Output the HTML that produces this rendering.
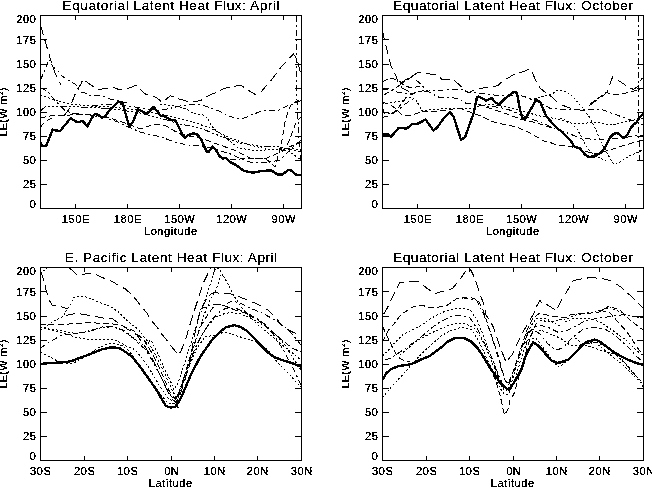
<!DOCTYPE html><html><head><meta charset="utf-8"><style>html,body{margin:0;padding:0;background:#fff;width:652px;height:488px;overflow:hidden}svg{display:block}text{font-family:"Liberation Sans",sans-serif;fill:#000;stroke:#000;stroke-width:0.15px}</style></head><body>
<svg width="652" height="488" viewBox="0 0 652 488" font-family="Liberation Sans, sans-serif">
<rect width="652" height="488" fill="#fff"/>
<defs><filter id="bin" x="0" y="0" width="652" height="488" filterUnits="userSpaceOnUse"><feComponentTransfer><feFuncA type="discrete" tableValues="0 0 1 1 1"/></feComponentTransfer></filter></defs>
<g transform="translate(0,0)" filter="url(#bin)">
<rect x="40.5" y="15.5" width="261" height="193" fill="none" stroke="#000" stroke-width="1"/>
<path d="M41 184.5H47M295 184.5H301M41 160.5H47M295 160.5H301M41 136.5H47M295 136.5H301M41 112.5H47M295 112.5H301M41 88.5H47M295 88.5H301M41 64.5H47M295 64.5H301M41 39.5H47M295 39.5H301M75.5 204V208M75.5 16V20M127.5 204V208M127.5 16V20M179.5 204V208M179.5 16V20M231.5 204V208M231.5 16V20M283.5 204V208M283.5 16V20" stroke="#000" stroke-width="1" fill="none"/>
<text x="36.5" y="208.26" text-anchor="end" font-size="11" letter-spacing="0.6" font-weight="normal">0</text>
<text x="36.5" y="188.46" text-anchor="end" font-size="11" letter-spacing="0.6" font-weight="normal">25</text>
<text x="36.5" y="164.46" text-anchor="end" font-size="11" letter-spacing="0.6" font-weight="normal">50</text>
<text x="36.5" y="140.46" text-anchor="end" font-size="11" letter-spacing="0.6" font-weight="normal">75</text>
<text x="36.5" y="116.46" text-anchor="end" font-size="11" letter-spacing="0.6" font-weight="normal">100</text>
<text x="36.5" y="92.46" text-anchor="end" font-size="11" letter-spacing="0.6" font-weight="normal">125</text>
<text x="36.5" y="68.46" text-anchor="end" font-size="11" letter-spacing="0.6" font-weight="normal">150</text>
<text x="36.5" y="44.46" text-anchor="end" font-size="11" letter-spacing="0.6" font-weight="normal">175</text>
<text x="36.5" y="23.46" text-anchor="end" font-size="11" letter-spacing="0.6" font-weight="normal">200</text>
<text x="75.80" y="222.66" text-anchor="middle" font-size="11" letter-spacing="0.6" font-weight="normal">150E</text>
<text x="127.80" y="222.66" text-anchor="middle" font-size="11" letter-spacing="0.6" font-weight="normal">180E</text>
<text x="179.80" y="222.66" text-anchor="middle" font-size="11" letter-spacing="0.6" font-weight="normal">150W</text>
<text x="231.80" y="222.66" text-anchor="middle" font-size="11" letter-spacing="0.6" font-weight="normal">120W</text>
<text x="283.80" y="222.66" text-anchor="middle" font-size="11" letter-spacing="0.6" font-weight="normal">90W</text>
<text x="170.80" y="235.46" text-anchor="middle" font-size="11" letter-spacing="0.6" font-weight="normal">Longitude</text>
<text transform="translate(6.8,112) rotate(-90)" text-anchor="middle" font-size="11" letter-spacing="0.3" font-weight="normal">LE(W m<tspan font-size="6.6" dy="-4">2</tspan><tspan dy="4">)</tspan></text>
<text x="171.28" y="9.6" text-anchor="middle" font-size="13.6" letter-spacing="0.55" font-weight="normal" style="stroke-width:0.05px">Equatorial Latent Heat Flux: April</text>
</g>
<path d="M40.5 142.3 42.0 145.6 46.0 146.3 52.6 129.6 54.6 130.3 60.0 131.0 70.6 118.3 77.3 122.3 82.6 121.0 87.3 126.3 93.3 115.6 96.0 113.6 102.0 117.6 105.2 116.3 110.0 109.6 118.7 101.6 122.6 103.0 129.3 127.0 133.3 121.0 138.0 109.6 142.0 111.0 145.3 113.6 148.6 112.3 153.3 107.0 155.3 109.0 160.6 115.6 164.6 116.3 170.0 119.6 175.2 120.3 179.2 127.6 182.6 135.0 185.2 137.6 188.0 135.3 193.3 133.3 197.3 134.6 201.3 139.3 204.0 146.0 206.6 151.3 208.6 152.0 212.6 146.6 216.0 150.0 219.3 156.0 222.6 158.6 226.0 158.0 230.0 162.0 236.0 165.0 243.0 170.3 247.8 171.8 253.8 172.7 258.5 171.5 264.4 170.9 271.0 170.3 277.5 174.4 282.3 174.4 288.8 169.7 291.8 170.9 296.5 175.0 301.0 175.0" fill="none" stroke="#000" stroke-width="2.4" stroke-linejoin="round" shape-rendering="crispEdges"/>
<path d="M40.5 25.0 44.0 37.0 48.8 53.6 52.8 66.8 56.0 75.2 61.0 85.0" fill="none" stroke="#000" stroke-width="1" stroke-dasharray="10 5" stroke-linejoin="round" shape-rendering="crispEdges"/>
<path d="M64.0 116.0 69.6 108.4 72.0 102.0 74.0 97.0 76.5 91.0 80.7 84.4 83.1 79.2 91.0 85.0 97.4 89.4 106.0 88.7 112.7 86.7 118.0 89.3 122.9 89.3 128.3 88.4 135.4 85.5 137.6 86.0 142.5 91.5 146.3 94.7 150.6 95.3 156.6 97.5 161.5 101.8 164.7 100.7 170.1 95.8 175.0 97.5 180.5 99.4 190.0 102.0 200.4 100.7 209.2 95.2 216.0 92.7 224.4 88.4 231.0 86.7 241.2 85.4 248.0 90.0 256.0 95.0 260.0 93.0 271.0 80.5 282.0 66.0 293.5 54.0 296.5 58.0 300.5 72.4" fill="none" stroke="#000" stroke-width="1" stroke-dasharray="10 5" stroke-linejoin="round" shape-rendering="crispEdges"/>
<path d="M40.5 80.0 44.0 72.0 48.0 62.0 49.2 59.2 52.8 66.8 56.8 69.6 62.0 76.0 66.0 78.8 72.0 82.0 76.7 85.5 80.0 92.0 85.5 93.2 90.0 95.5 100.0 95.4 106.0 97.4 111.0 99.6 120.0 101.0 130.0 104.0" fill="none" stroke="#000" stroke-width="1" stroke-dasharray="6 3 2 3" stroke-linejoin="round" shape-rendering="crispEdges"/>
<path d="M92.3 105.6 117.6 103.9 140.0 108.0 158.6 110.4 168.7 108.7 178.8 106.2 189.0 105.0 199.9 104.5 205.8 106.2 212.5 108.7 219.3 111.2 227.7 115.4 236.2 118.8 244.6 118.0 251.0 115.0 265.0 110.0 279.0 110.0 287.4 106.0 297.5 102.0 301.0 100.5" fill="none" stroke="#000" stroke-width="1" stroke-dasharray="6 3 2 3" stroke-linejoin="round" shape-rendering="crispEdges"/>
<path d="M160.0 104.0 175.0 106.0 187.2 109.5 194.0 113.7 202.4 114.6 208.3 118.8 210.9 125.6 216.0 130.6 222.7 135.7 229.4 140.7 237.9 147.5 250.0 150.0 265.0 150.0 280.0 149.0 290.0 152.0 301.0 160.0" fill="none" stroke="#000" stroke-width="1" stroke-dasharray="2 2" stroke-linejoin="round" shape-rendering="crispEdges"/>
<path d="M40.5 118.0 50.0 116.0 60.0 115.5 70.0 115.0 92.0 114.0 110.0 118.0 125.0 123.0 140.0 128.9 150.1 125.6 156.9 124.2 165.3 125.6 173.7 130.6 180.5 134.0 190.6 136.5 200.7 138.2 212.5 142.4 224.4 146.6 236.2 150.9 251.0 158.7 265.0 158.7 275.0 154.7 285.4 148.6 301.0 142.0" fill="none" stroke="#000" stroke-width="1" stroke-dasharray="6 3" stroke-linejoin="round" shape-rendering="crispEdges"/>
<path d="M40.5 88.0 48.0 91.2 52.0 97.2 64.8 110.4 71.0 113.0 90.0 115.0 106.0 118.0 118.0 122.0 129.0 127.2 140.0 132.0 150.1 134.8 160.2 136.5 168.7 139.9 178.8 143.3 188.9 145.0 199.0 145.8 210.9 147.5 221.0 150.9 231.1 154.2 237.9 157.6 250.0 162.0 265.0 163.0 280.0 160.0 290.0 150.0 301.0 140.0" fill="none" stroke="#000" stroke-width="1" stroke-dasharray="6 3 2 3" stroke-linejoin="round" shape-rendering="crispEdges"/>
<path d="M230.0 160.0 250.0 158.0 265.0 158.0 275.0 167.0 279.0 152.6 282.3 138.5 285.4 120.0 288.4 110.0 291.5 104.0 301.6 98.7" fill="none" stroke="#000" stroke-width="1" stroke-dasharray="6 3" stroke-linejoin="round" shape-rendering="crispEdges"/>
<path d="M296.5 15.5 296.5 60.0 297.0 100.0 299.0 140.0 301.0 160.0" fill="none" stroke="#000" stroke-width="1" stroke-dasharray="6 3 2 3" stroke-linejoin="round" shape-rendering="crispEdges"/>
<path d="M40.5 127.0 44.0 123.0 47.0 120.5 52.0 118.0" fill="none" stroke="#000" stroke-width="1" stroke-dasharray="6 3" stroke-linejoin="round" shape-rendering="crispEdges"/>
<path d="M282.0 152.0 286.0 148.0 289.0 141.0 292.0 133.0 295.0 125.0 298.0 120.0 301.0 117.0" fill="none" stroke="#000" stroke-width="1" stroke-dasharray="6 3" stroke-linejoin="round" shape-rendering="crispEdges"/>
<path d="M40.5 111.0 46.0 106.0 60.0 106.0 80.0 107.0 100.0 108.0 120.0 110.0 140.0 113.0 160.0 118.0 180.0 124.0 200.0 128.0 220.0 136.0 240.0 143.0 260.0 146.0 280.0 147.0 301.0 152.0" fill="none" stroke="#000" stroke-width="1" stroke-dasharray="7 2 2 2 2 2 2 2" stroke-linejoin="round" shape-rendering="crispEdges"/>
<path d="M40.5 95.0 55.0 100.0 70.0 104.0 90.0 106.0 110.0 107.0 130.0 109.0 150.0 112.0 170.0 116.0 190.0 121.0 210.0 128.0 230.0 138.0 250.0 145.0 270.0 150.0 290.0 148.0 301.0 150.0" fill="none" stroke="#000" stroke-width="1" stroke-dasharray="2 2" stroke-linejoin="round" shape-rendering="crispEdges"/>
<g transform="translate(342,0)" filter="url(#bin)">
<rect x="40.5" y="15.5" width="261" height="193" fill="none" stroke="#000" stroke-width="1"/>
<path d="M41 184.5H47M295 184.5H301M41 160.5H47M295 160.5H301M41 136.5H47M295 136.5H301M41 112.5H47M295 112.5H301M41 88.5H47M295 88.5H301M41 64.5H47M295 64.5H301M41 39.5H47M295 39.5H301M75.5 204V208M75.5 16V20M127.5 204V208M127.5 16V20M179.5 204V208M179.5 16V20M231.5 204V208M231.5 16V20M283.5 204V208M283.5 16V20" stroke="#000" stroke-width="1" fill="none"/>
<text x="36.5" y="208.26" text-anchor="end" font-size="11" letter-spacing="0.6" font-weight="normal">0</text>
<text x="36.5" y="188.46" text-anchor="end" font-size="11" letter-spacing="0.6" font-weight="normal">25</text>
<text x="36.5" y="164.46" text-anchor="end" font-size="11" letter-spacing="0.6" font-weight="normal">50</text>
<text x="36.5" y="140.46" text-anchor="end" font-size="11" letter-spacing="0.6" font-weight="normal">75</text>
<text x="36.5" y="116.46" text-anchor="end" font-size="11" letter-spacing="0.6" font-weight="normal">100</text>
<text x="36.5" y="92.46" text-anchor="end" font-size="11" letter-spacing="0.6" font-weight="normal">125</text>
<text x="36.5" y="68.46" text-anchor="end" font-size="11" letter-spacing="0.6" font-weight="normal">150</text>
<text x="36.5" y="44.46" text-anchor="end" font-size="11" letter-spacing="0.6" font-weight="normal">175</text>
<text x="36.5" y="23.46" text-anchor="end" font-size="11" letter-spacing="0.6" font-weight="normal">200</text>
<text x="75.80" y="222.66" text-anchor="middle" font-size="11" letter-spacing="0.6" font-weight="normal">150E</text>
<text x="127.80" y="222.66" text-anchor="middle" font-size="11" letter-spacing="0.6" font-weight="normal">180E</text>
<text x="179.80" y="222.66" text-anchor="middle" font-size="11" letter-spacing="0.6" font-weight="normal">150W</text>
<text x="231.80" y="222.66" text-anchor="middle" font-size="11" letter-spacing="0.6" font-weight="normal">120W</text>
<text x="283.80" y="222.66" text-anchor="middle" font-size="11" letter-spacing="0.6" font-weight="normal">90W</text>
<text x="170.80" y="235.46" text-anchor="middle" font-size="11" letter-spacing="0.6" font-weight="normal">Longitude</text>
<text transform="translate(6.8,112) rotate(-90)" text-anchor="middle" font-size="11" letter-spacing="0.3" font-weight="normal">LE(W m<tspan font-size="6.6" dy="-4">2</tspan><tspan dy="4">)</tspan></text>
<text x="171.28" y="9.6" text-anchor="middle" font-size="13.6" letter-spacing="0.55" font-weight="normal" style="stroke-width:0.05px">Equatorial Latent Heat Flux: October</text>
</g>
<path d="M382.5 135.5 384.5 134.3 388.1 134.3 391.2 136.7 398.6 127.9 401.6 127.9 406.5 128.7 412.7 123.8 417.6 123.8 425.6 119.5 433.5 130.6 437.2 127.5 443.3 118.9 450.1 112.2 453.8 117.1 461.0 139.9 465.0 137.3 473.6 113.3 477.0 97.3 479.0 96.6 486.3 100.6 491.6 98.0 495.0 102.0 499.0 104.6 505.6 98.0 513.6 92.0 516.9 92.6 520.2 110.6 522.9 119.3 525.7 118.3 536.3 99.6 540.3 102.3 546.3 116.3 551.6 122.3 557.0 128.3 561.0 131.0 566.3 136.3 570.3 140.3 574.7 147.0 580.0 148.3 585.3 154.9 588.6 156.9 594.6 156.5 601.3 152.3 605.3 146.9 610.0 137.6 614.0 133.6 617.3 133.0 624.0 138.3 627.2 135.0 630.6 128.3 633.2 125.0 636.6 122.3 639.2 117.6 643.2 113.6" fill="none" stroke="#000" stroke-width="2.4" stroke-linejoin="round" shape-rendering="crispEdges"/>
<path d="M382.5 30.0 384.7 41.6 387.0 50.0 389.4 60.0 391.0 66.0 395.5 74.8 398.0 82.0 402.0 88.0 410.0 92.0" fill="none" stroke="#000" stroke-width="1" stroke-dasharray="10 5" stroke-linejoin="round" shape-rendering="crispEdges"/>
<path d="M400.0 84.0 405.0 80.2 413.0 75.5 418.0 72.5 421.0 72.0 427.0 73.5 437.0 75.0 442.0 79.5 453.0 79.3 458.0 83.6 468.5 93.0 472.3 90.6 483.0 88.0 489.0 87.3 497.6 85.7 503.0 81.0 513.0 75.0 518.4 73.4 528.4 69.6 531.0 70.0 536.8 82.6 540.0 88.0 547.6 94.2 551.4 96.5 559.0 104.0 570.0 108.0 583.0 110.5 593.3 102.6 601.9 96.8 607.0 91.8 610.6 82.4 612.7 76.6 619.2 81.0 627.9 86.7 633.6 89.6 638.0 86.0 642.3 78.0" fill="none" stroke="#000" stroke-width="1" stroke-dasharray="10 5" stroke-linejoin="round" shape-rendering="crispEdges"/>
<path d="M530.0 100.0 540.0 97.0 551.4 94.6 555.8 91.0 561.5 90.3 568.7 93.2 574.5 98.3 578.8 104.0 583.2 108.3 590.0 118.0 596.0 130.0 601.0 142.0 607.0 153.0 612.0 162.0 615.0 164.6 621.3 161.4 629.3 155.8 637.3 152.6 643.7 149.4" fill="none" stroke="#000" stroke-width="1" stroke-dasharray="2 2" stroke-linejoin="round" shape-rendering="crispEdges"/>
<path d="M560.0 118.0 570.0 122.0 576.7 128.7 581.5 136.7 586.3 146.3 591.0 152.6 599.0 157.4 607.0 161.4" fill="none" stroke="#000" stroke-width="1" stroke-dasharray="2 2" stroke-linejoin="round" shape-rendering="crispEdges"/>
<path d="M382.5 89.0 390.0 90.4 402.0 93.0 410.4 93.8 420.5 91.7 436.0 90.4 449.6 89.7 463.0 89.7 469.0 93.0 475.4 92.6 486.0 94.2 501.5 95.7 510.7 95.0 521.4 95.7 535.0 100.0 550.0 108.3 564.4 109.8 586.0 109.8 600.5 109.0 612.0 113.4 630.7 119.9 643.0 125.0" fill="none" stroke="#000" stroke-width="1" stroke-dasharray="6 3 2 3" stroke-linejoin="round" shape-rendering="crispEdges"/>
<path d="M416.0 80.0 421.2 84.3 426.6 90.4 433.4 94.4 438.8 97.1 446.9 97.8 453.6 97.8 460.4 99.8 466.0 103.4 473.8 104.2 486.0 106.0 498.4 107.2 510.7 110.3 521.4 115.0 532.2 119.5 541.4 122.6 552.2 127.2 565.0 132.0 580.0 138.0 600.0 140.0 620.0 138.0 643.0 135.0" fill="none" stroke="#000" stroke-width="1" stroke-dasharray="6 3 2 3" stroke-linejoin="round" shape-rendering="crispEdges"/>
<path d="M382.5 104.0 395.0 102.0 402.3 101.2 405.0 97.8 411.7 97.1 416.0 100.0 419.8 106.6 422.5 111.3 429.3 110.0 438.8 109.3 449.6 108.0 463.0 108.6 472.3 108.8 480.0 105.7 490.7 104.2 500.0 105.7 510.7 108.0 525.0 112.0 540.0 116.0 552.2 118.0 560.0 120.0 575.0 124.0 595.8 122.3 612.0 125.0 625.0 122.0 643.0 118.0" fill="none" stroke="#000" stroke-width="1" stroke-dasharray="2 2" stroke-linejoin="round" shape-rendering="crispEdges"/>
<path d="M382.5 102.5 388.8 103.9 395.0 108.0 402.3 115.4 410.4 115.4 417.1 113.4 425.0 111.0 440.0 111.0 460.0 108.0 469.2 111.8 481.5 116.4 490.7 121.0 498.4 123.4 507.6 124.9 516.8 127.2 530.0 133.0 544.8 141.5 549.6 142.3 556.0 144.7 560.7 145.5 568.7 146.3 576.7 147.8 584.7 151.0 595.0 154.0 610.0 150.0 625.0 145.0 643.0 140.0" fill="none" stroke="#000" stroke-width="1" stroke-dasharray="6 3" stroke-linejoin="round" shape-rendering="crispEdges"/>
<path d="M382.5 108.0 384.7 113.4 392.8 113.4 398.2 110.0 405.0 104.0 415.0 98.0" fill="none" stroke="#000" stroke-width="1" stroke-dasharray="6 3 2 3" stroke-linejoin="round" shape-rendering="crispEdges"/>
<path d="M638.5 15.5 638.5 60.0 638.5 112.0 639.0 140.0 640.0 160.0" fill="none" stroke="#000" stroke-width="1" stroke-dasharray="6 3 2 3" stroke-linejoin="round" shape-rendering="crispEdges"/>
<path d="M478.0 104.0 495.0 110.0 509.2 114.9 521.4 119.5 529.0 121.0 540.0 124.0 552.0 128.0" fill="none" stroke="#000" stroke-width="1" stroke-dasharray="6 3" stroke-linejoin="round" shape-rendering="crispEdges"/>
<path d="M590.0 104.0 600.0 97.0 605.7 92.5 612.0 94.0 619.2 94.5 626.0 93.0 632.7 91.6 643.0 88.0" fill="none" stroke="#000" stroke-width="1" stroke-dasharray="6 3" stroke-linejoin="round" shape-rendering="crispEdges"/>
<path d="M382.5 82.0 390.0 78.0 398.0 80.0 405.0 86.0 412.0 88.0 420.0 86.0" fill="none" stroke="#000" stroke-width="1" stroke-dasharray="6 3" stroke-linejoin="round" shape-rendering="crispEdges"/>
<path d="M384.0 95.0 392.0 90.0 400.0 85.0 407.0 80.0 413.0 76.0" fill="none" stroke="#000" stroke-width="1" stroke-dasharray="6 3 2 3" stroke-linejoin="round" shape-rendering="crispEdges"/>
<path d="M382.5 117.3 387.7 116.0 390.6 114.5 396.3 110.2 402.0 103.0 406.4 97.3 410.0 95.0 415.0 93.0 425.0 90.0" fill="none" stroke="#000" stroke-width="1" stroke-dasharray="6 3" stroke-linejoin="round" shape-rendering="crispEdges"/>
<g transform="translate(0,252)" filter="url(#bin)">
<rect x="40.5" y="15.5" width="261" height="193" fill="none" stroke="#000" stroke-width="1"/>
<path d="M41 184.5H47M295 184.5H301M41 160.5H47M295 160.5H301M41 136.5H47M295 136.5H301M41 112.5H47M295 112.5H301M41 88.5H47M295 88.5H301M41 64.5H47M295 64.5H301M41 39.5H47M295 39.5H301M84.5 204V208M84.5 16V20M127.5 204V208M127.5 16V20M171.5 204V208M171.5 16V20M214.5 204V208M214.5 16V20M257.5 204V208M257.5 16V20" stroke="#000" stroke-width="1" fill="none"/>
<text x="36.5" y="208.26" text-anchor="end" font-size="11" letter-spacing="0.6" font-weight="normal">0</text>
<text x="36.5" y="188.46" text-anchor="end" font-size="11" letter-spacing="0.6" font-weight="normal">25</text>
<text x="36.5" y="164.46" text-anchor="end" font-size="11" letter-spacing="0.6" font-weight="normal">50</text>
<text x="36.5" y="140.46" text-anchor="end" font-size="11" letter-spacing="0.6" font-weight="normal">75</text>
<text x="36.5" y="116.46" text-anchor="end" font-size="11" letter-spacing="0.6" font-weight="normal">100</text>
<text x="36.5" y="92.46" text-anchor="end" font-size="11" letter-spacing="0.6" font-weight="normal">125</text>
<text x="36.5" y="68.46" text-anchor="end" font-size="11" letter-spacing="0.6" font-weight="normal">150</text>
<text x="36.5" y="44.46" text-anchor="end" font-size="11" letter-spacing="0.6" font-weight="normal">175</text>
<text x="36.5" y="23.46" text-anchor="end" font-size="11" letter-spacing="0.6" font-weight="normal">200</text>
<text x="40.80" y="222.66" text-anchor="middle" font-size="11" letter-spacing="0.6" font-weight="normal">30S</text>
<text x="84.80" y="222.66" text-anchor="middle" font-size="11" letter-spacing="0.6" font-weight="normal">20S</text>
<text x="127.80" y="222.66" text-anchor="middle" font-size="11" letter-spacing="0.6" font-weight="normal">10S</text>
<text x="171.80" y="222.66" text-anchor="middle" font-size="11" letter-spacing="0.6" font-weight="normal">0N</text>
<text x="214.80" y="222.66" text-anchor="middle" font-size="11" letter-spacing="0.6" font-weight="normal">10N</text>
<text x="257.80" y="222.66" text-anchor="middle" font-size="11" letter-spacing="0.6" font-weight="normal">20N</text>
<text x="301.80" y="222.66" text-anchor="middle" font-size="11" letter-spacing="0.6" font-weight="normal">30N</text>
<text x="170.80" y="235.46" text-anchor="middle" font-size="11" letter-spacing="0.6" font-weight="normal">Latitude</text>
<text transform="translate(6.8,112) rotate(-90)" text-anchor="middle" font-size="11" letter-spacing="0.3" font-weight="normal">LE(W m<tspan font-size="6.6" dy="-4">2</tspan><tspan dy="4">)</tspan></text>
<text x="171.28" y="9.6" text-anchor="middle" font-size="13.6" letter-spacing="0.55" font-weight="normal" style="stroke-width:0.05px">E. Pacific Latent Heat Flux: April</text>
</g>
<path d="M40.5 364.5 44.1 363.4 51.0 363.1 58.0 362.6 67.6 362.0 73.1 360.4 81.4 357.3 88.3 354.8 95.2 352.1 102.1 349.3 109.0 347.7 114.5 347.3 120.0 348.5 126.1 352.3 132.3 356.9 138.4 364.6 144.6 373.0 150.7 381.5 156.9 390.7 163.0 401.4 166.1 406.1 170.7 407.6 175.3 406.8 178.4 402.2 181.4 396.8 186.1 386.1 190.7 375.3 195.3 366.1 199.9 357.6 206.5 347.7 213.0 338.7 219.6 332.2 226.2 327.2 234.4 325.1 241.0 327.2 247.5 331.3 254.1 337.9 260.6 345.3 267.2 351.9 273.8 356.8 282.0 360.1 290.2 362.5 296.8 365.0 301.0 366.5" fill="none" stroke="#000" stroke-width="2.4" stroke-linejoin="round" shape-rendering="crispEdges"/>
<path d="M69.0 267.5 76.2 274.0 84.6 274.0 94.3 273.3 99.9 276.7 109.6 280.2 115.9 283.7 120.0 286.5 125.0 288.6 129.7 292.8 136.7 300.4 141.6 306.7 147.9 314.4 150.0 319.2 156.9 326.9 161.2 333.4 167.5 341.1 171.0 346.0 178.6 355.0 180.7 351.5 184.9 341.8 189.0 327.9 191.9 318.1 194.6 309.7 197.4 301.4 203.6 282.3 209.1 271.2 211.0 267.5" fill="none" stroke="#000" stroke-width="1" stroke-dasharray="10 5" stroke-linejoin="round" shape-rendering="crispEdges"/>
<path d="M40.5 274.0 47.0 267.5" fill="none" stroke="#000" stroke-width="1" stroke-dasharray="2 2" stroke-linejoin="round" shape-rendering="crispEdges"/>
<path d="M40.5 271.0 41.4 273.3 44.2 281.0 46.3 291.4 49.7 301.0 52.0 305.0 58.0 305.3 63.0 307.4 67.9 308.8" fill="none" stroke="#000" stroke-width="1" stroke-dasharray="10 5" stroke-linejoin="round" shape-rendering="crispEdges"/>
<path d="M40.5 330.0 44.4 328.2 52.0 322.0 63.3 316.5 66.5 310.0 70.6 304.9 73.5 297.6 82.3 296.1 88.1 297.6 98.3 302.0 110.0 306.3 118.7 312.2 127.4 320.9 139.0 330.0 148.0 342.0 155.0 354.0 162.0 368.0 168.0 381.0 173.0 392.0 177.0 398.0 181.0 388.0 186.0 372.0 192.0 352.0 198.0 333.0 204.0 315.0 210.0 300.0 216.0 290.0 221.0 275.0 223.5 276.4 227.4 282.6 232.9 294.4 237.6 301.4 243.0 309.3 250.0 317.0 257.6 324.6 267.5 332.8 277.3 341.0 285.5 347.5 293.7 354.0 301.0 360.0" fill="none" stroke="#000" stroke-width="1" stroke-dasharray="2 2" stroke-linejoin="round" shape-rendering="crispEdges"/>
<path d="M65.5 315.3 72.0 314.6 74.2 313.1 89.5 315.3 91.0 316.0 101.2 317.5 104.0 318.2 112.9 319.0 118.7 323.3 127.4 329.1 137.0 335.0 146.0 348.0 154.0 362.0 161.0 377.0 167.0 390.0 172.0 399.0 176.0 403.0 180.0 395.0 184.0 383.0 189.0 366.0 193.2 341.8 196.0 327.9 198.8 315.3 203.0 305.6 208.0 296.0 213.3 292.8 229.7 293.6 235.2 295.2 247.0 299.9 254.8 303.0 264.2 307.7 268.9 310.8 276.7 318.6 281.4 324.9 287.6 329.6 293.9 332.7 301.0 334.5" fill="none" stroke="#000" stroke-width="1" stroke-dasharray="10 5" stroke-linejoin="round" shape-rendering="crispEdges"/>
<path d="M40.5 324.5 54.6 324.0 69.1 324.0 88.1 322.6 101.2 323.3 112.9 324.0 121.6 325.5 133.3 330.6 144.0 340.0 152.0 353.0 159.0 367.0 165.0 381.0 170.0 392.0 175.0 399.0 179.0 393.0 184.0 378.0 189.0 360.0 195.0 342.0 201.0 326.0 208.0 314.0 215.6 304.2 223.5 305.3 232.0 309.0 245.0 313.0 258.0 320.0 270.0 330.0 282.0 340.0 292.0 348.0 301.0 352.0" fill="none" stroke="#000" stroke-width="1" stroke-dasharray="6 3" stroke-linejoin="round" shape-rendering="crispEdges"/>
<path d="M44.2 328.3 54.0 330.4 63.3 332.8 75.0 337.2 88.1 339.3 110.0 339.3 117.2 340.8 127.4 346.6 134.7 349.5 142.0 358.0 149.0 368.0 156.0 380.0 163.0 391.0 169.0 399.0 174.0 402.0 178.0 396.0 183.0 383.0 188.0 368.0 194.0 352.0 200.0 338.0 207.0 327.0 215.6 317.1 223.5 314.0 231.3 312.4 240.7 314.0 251.6 318.6 259.5 323.3 267.3 326.5 277.0 336.0 285.0 345.0 293.0 358.0 301.0 370.0" fill="none" stroke="#000" stroke-width="1" stroke-dasharray="2 2" stroke-linejoin="round" shape-rendering="crispEdges"/>
<path d="M40.5 348.0 48.7 342.3 61.9 335.0 72.0 334.2 83.7 332.0 95.4 329.1 104.1 326.2 115.0 327.0 125.0 331.0 135.0 340.0 146.0 350.0 153.0 362.0 160.0 375.0 166.0 387.0 171.0 396.0 175.0 400.0 179.0 392.0 184.0 377.0 190.0 361.0 196.0 346.0 203.0 333.0 210.0 322.0 218.0 313.0 226.0 308.0 235.0 308.0 245.0 312.0 256.0 318.0 266.0 325.0 276.0 338.0 285.0 353.0 293.0 368.0 301.0 385.0" fill="none" stroke="#000" stroke-width="1" stroke-dasharray="6 3 2 3" stroke-linejoin="round" shape-rendering="crispEdges"/>
<path d="M40.5 352.5 47.3 355.4 57.5 361.2 69.1 364.1 77.9 361.2 90.0 353.0 100.0 347.0 108.0 344.0 115.0 343.5 122.0 345.5 129.0 351.0 136.0 360.0 144.0 372.0 152.0 383.0 160.0 394.0 166.0 401.0 171.0 404.0 175.0 403.0 179.0 396.0 184.0 382.0 190.0 364.0 197.0 348.0 205.0 337.0 215.0 335.0 224.8 332.0 234.7 335.2 247.8 339.3 257.6 342.6 268.0 350.0 277.3 362.3 283.9 368.9 290.4 375.4 296.0 382.0 301.0 387.0" fill="none" stroke="#000" stroke-width="1" stroke-dasharray="2 2" stroke-linejoin="round" shape-rendering="crispEdges"/>
<path d="M40.5 327.0 44.2 328.3 54.6 329.7 63.0 331.0 69.1 332.6 76.4 333.3 91.0 331.1 98.3 328.2 112.9 326.7 122.0 330.0 132.0 337.0 143.0 345.0 151.0 340.0 158.0 354.0 164.0 368.0 170.0 380.0 174.0 390.0 178.0 383.0 183.0 368.0 189.0 349.0 195.0 330.0 200.0 315.0 205.0 300.0 210.0 285.0 214.0 272.0 216.0 268.0 219.0 268.6 223.5 276.4" fill="none" stroke="#000" stroke-width="1" stroke-dasharray="2 2" stroke-linejoin="round" shape-rendering="crispEdges"/>
<path d="M200.0 309.3 207.8 306.1 215.6 304.2 223.5 305.3 232.0 301.0 240.0 303.0 250.0 308.0 262.0 313.0 275.0 320.0 285.0 327.0 293.0 335.0 301.0 345.0" fill="none" stroke="#000" stroke-width="1" stroke-dasharray="6 3 2 3" stroke-linejoin="round" shape-rendering="crispEdges"/>
<path d="M176.0 403.0 179.3 410.5" fill="none" stroke="#000" stroke-width="1" stroke-dasharray="6 3" stroke-linejoin="round" shape-rendering="crispEdges"/>
<g transform="translate(342,252)" filter="url(#bin)">
<rect x="40.5" y="15.5" width="261" height="193" fill="none" stroke="#000" stroke-width="1"/>
<path d="M41 184.5H47M295 184.5H301M41 160.5H47M295 160.5H301M41 136.5H47M295 136.5H301M41 112.5H47M295 112.5H301M41 88.5H47M295 88.5H301M41 64.5H47M295 64.5H301M41 39.5H47M295 39.5H301M84.5 204V208M84.5 16V20M127.5 204V208M127.5 16V20M171.5 204V208M171.5 16V20M214.5 204V208M214.5 16V20M257.5 204V208M257.5 16V20" stroke="#000" stroke-width="1" fill="none"/>
<text x="36.5" y="208.26" text-anchor="end" font-size="11" letter-spacing="0.6" font-weight="normal">0</text>
<text x="36.5" y="188.46" text-anchor="end" font-size="11" letter-spacing="0.6" font-weight="normal">25</text>
<text x="36.5" y="164.46" text-anchor="end" font-size="11" letter-spacing="0.6" font-weight="normal">50</text>
<text x="36.5" y="140.46" text-anchor="end" font-size="11" letter-spacing="0.6" font-weight="normal">75</text>
<text x="36.5" y="116.46" text-anchor="end" font-size="11" letter-spacing="0.6" font-weight="normal">100</text>
<text x="36.5" y="92.46" text-anchor="end" font-size="11" letter-spacing="0.6" font-weight="normal">125</text>
<text x="36.5" y="68.46" text-anchor="end" font-size="11" letter-spacing="0.6" font-weight="normal">150</text>
<text x="36.5" y="44.46" text-anchor="end" font-size="11" letter-spacing="0.6" font-weight="normal">175</text>
<text x="36.5" y="23.46" text-anchor="end" font-size="11" letter-spacing="0.6" font-weight="normal">200</text>
<text x="40.80" y="222.66" text-anchor="middle" font-size="11" letter-spacing="0.6" font-weight="normal">30S</text>
<text x="84.80" y="222.66" text-anchor="middle" font-size="11" letter-spacing="0.6" font-weight="normal">20S</text>
<text x="127.80" y="222.66" text-anchor="middle" font-size="11" letter-spacing="0.6" font-weight="normal">10S</text>
<text x="171.80" y="222.66" text-anchor="middle" font-size="11" letter-spacing="0.6" font-weight="normal">0N</text>
<text x="214.80" y="222.66" text-anchor="middle" font-size="11" letter-spacing="0.6" font-weight="normal">10N</text>
<text x="257.80" y="222.66" text-anchor="middle" font-size="11" letter-spacing="0.6" font-weight="normal">20N</text>
<text x="301.80" y="222.66" text-anchor="middle" font-size="11" letter-spacing="0.6" font-weight="normal">30N</text>
<text x="170.80" y="235.46" text-anchor="middle" font-size="11" letter-spacing="0.6" font-weight="normal">Latitude</text>
<text transform="translate(6.8,112) rotate(-90)" text-anchor="middle" font-size="11" letter-spacing="0.3" font-weight="normal">LE(W m<tspan font-size="6.6" dy="-4">2</tspan><tspan dy="4">)</tspan></text>
<text x="171.28" y="9.6" text-anchor="middle" font-size="13.6" letter-spacing="0.55" font-weight="normal" style="stroke-width:0.05px">Equatorial Latent Heat Flux: October</text>
</g>
<path d="M382.5 379.5 386.6 373.0 391.2 369.1 397.3 366.5 403.5 365.3 409.6 364.5 414.2 363.0 421.9 359.1 429.5 356.1 435.7 351.5 441.8 346.9 448.0 341.5 454.1 338.4 458.7 337.7 464.8 338.4 471.0 341.5 477.1 347.6 481.1 353.0 485.7 360.7 490.3 368.3 494.9 374.5 499.5 382.1 504.1 386.7 508.7 389.8 513.3 383.7 518.0 376.0 521.8 368.3 525.6 356.1 529.4 348.4 533.3 342.3 537.9 345.3 542.5 349.9 547.1 356.1 551.7 360.7 557.8 363.0 564.0 361.0 569.0 359.3 574.2 354.1 579.3 348.4 583.2 344.5 587.1 341.6 591.6 340.6 594.8 339.6 598.7 340.9 603.8 344.5 609.0 348.4 614.1 352.2 620.6 356.1 627.0 359.3 633.5 361.9 638.6 363.8 643.0 364.8" fill="none" stroke="#000" stroke-width="2.4" stroke-linejoin="round" shape-rendering="crispEdges"/>
<path d="M383.4 314.4 387.6 307.4 390.4 301.1 395.2 292.1 398.0 285.8 400.1 282.3 406.4 282.0 412.6 281.2 417.5 281.2 422.4 284.4 427.3 288.6 434.9 293.5 442.6 291.4 452.3 288.6 456.5 283.7 462.8 275.4 467.8 268.0 470.7 269.9 475.1 278.7 479.5 293.2 482.4 300.5 485.3 309.3 486.0 315.0 492.6 325.3 497.0 338.0 502.0 352.0 506.0 362.0 512.0 355.0 518.0 342.0 524.0 330.0 528.3 323.1 534.1 312.9 535.6 307.8 540.0 300.5 541.4 302.7 547.2 304.9 556.5 310.5 559.2 304.2 564.3 295.4 568.0 289.6 573.0 280.8 578.1 279.4 588.3 277.9 595.6 277.9 606.6 279.4 612.4 281.6 620.4 286.7 626.2 291.8 633.5 298.3 637.9 302.7 643.0 307.8" fill="none" stroke="#000" stroke-width="1" stroke-dasharray="10 5" stroke-linejoin="round" shape-rendering="crispEdges"/>
<path d="M382.5 342.0 388.3 330.5 396.3 321.0 401.0 314.6 410.6 308.3 413.7 306.7 422.8 305.5 428.6 307.3 433.0 308.0 446.0 306.0 454.4 300.4 457.2 298.3 471.1 297.6 478.0 300.0 483.0 310.0 488.0 325.0 493.0 340.0 498.0 355.0 502.0 370.0 505.0 380.0 508.0 384.0 512.0 375.0 517.0 360.0 522.0 345.0 527.0 330.0 533.0 318.0 540.0 313.0 550.0 316.0 565.0 318.0 570.9 314.4 585.4 313.6 598.5 312.2 608.7 306.3 620.0 310.0 630.0 320.0 643.0 330.0" fill="none" stroke="#000" stroke-width="1" stroke-dasharray="6 3" stroke-linejoin="round" shape-rendering="crispEdges"/>
<path d="M382.5 326.0 386.4 335.0 390.7 343.7 395.1 352.5 399.5 358.3 405.0 361.0 410.0 362.0" fill="none" stroke="#000" stroke-width="1" stroke-dasharray="6 3" stroke-linejoin="round" shape-rendering="crispEdges"/>
<path d="M382.5 397.6 392.0 386.0 402.0 375.5 412.0 364.0 422.0 353.4 432.0 344.0 442.0 335.3 452.0 330.0 462.0 327.3 472.0 330.0 478.0 340.0 484.0 352.0 490.0 366.0 495.0 378.0 500.0 388.0 504.0 394.0 508.0 395.0 512.0 387.0 517.0 372.0 522.0 356.0 527.0 342.0 533.0 332.0 541.0 330.0 550.0 334.0 560.0 338.0 570.0 345.0 580.0 345.0 595.0 342.4 604.4 349.8 613.0 357.0 622.8 364.6 632.0 373.8 639.4 381.2 643.0 386.7" fill="none" stroke="#000" stroke-width="1" stroke-dasharray="2 2" stroke-linejoin="round" shape-rendering="crispEdges"/>
<path d="M382.5 356.0 387.8 351.0 393.7 343.7 402.4 335.0 411.1 330.6 419.9 326.2 430.1 318.9 440.3 313.1 449.0 310.2 460.0 308.0 470.0 310.0 476.0 318.0 482.0 332.0 488.0 348.0 494.0 364.0 499.0 378.0 503.0 388.0 507.0 391.0 511.0 384.0 516.0 368.0 521.0 352.0 526.0 338.0 531.0 326.0 537.0 318.0 545.0 318.0 552.0 322.0 560.0 326.0" fill="none" stroke="#000" stroke-width="1" stroke-dasharray="2 2" stroke-linejoin="round" shape-rendering="crispEdges"/>
<path d="M400.0 355.0 408.2 348.1 417.0 340.8 430.1 333.5 441.7 328.4 450.5 324.8 459.2 323.3 466.5 324.0 475.3 329.1 481.0 338.0 487.0 350.0 492.0 362.0 497.0 375.0 501.0 385.0 504.0 390.0" fill="none" stroke="#000" stroke-width="1" stroke-dasharray="2 2" stroke-linejoin="round" shape-rendering="crispEdges"/>
<path d="M384.9 359.7 390.7 358.3 400.0 352.0 410.0 345.0 420.0 338.0 430.0 329.0 440.0 322.0 450.0 317.0 460.0 315.0 470.0 318.0 478.0 330.0 485.0 344.0 492.0 358.0 498.0 374.0 503.0 385.0 507.0 388.0 511.0 380.0 516.0 365.0 521.0 350.0 527.0 336.0 533.0 328.0 540.0 325.0 549.0 327.7 558.2 332.3 567.5 330.4 576.7 325.8 585.9 320.3 597.0 318.5 609.9 316.6 622.8 314.8 633.9 316.6 643.0 317.5" fill="none" stroke="#000" stroke-width="1" stroke-dasharray="6 3 2 3" stroke-linejoin="round" shape-rendering="crispEdges"/>
<path d="M540.0 320.0 549.0 322.0 567.5 318.5 576.7 314.8 585.9 313.0 595.1 312.0 604.4 309.2 609.9 307.4 620.0 312.0 630.0 316.0 643.0 318.0" fill="none" stroke="#000" stroke-width="1" stroke-dasharray="2 2" stroke-linejoin="round" shape-rendering="crispEdges"/>
<path d="M600.0 310.0 609.9 312.9 626.5 331.4 630.2 336.9 637.6 348.0 643.0 355.0" fill="none" stroke="#000" stroke-width="1" stroke-dasharray="6 3" stroke-linejoin="round" shape-rendering="crispEdges"/>
<path d="M575.0 338.0 585.0 345.0 600.0 350.0 619.0 355.4 630.2 370.0 638.0 378.0 643.0 383.0" fill="none" stroke="#000" stroke-width="1" stroke-dasharray="2 2" stroke-linejoin="round" shape-rendering="crispEdges"/>
<path d="M490.0 365.0 497.0 385.0 500.4 396.6 503.0 409.0 504.5 415.0 508.6 408.0 510.0 400.0 513.7 394.6 518.0 380.0 523.0 362.0 528.0 345.0 533.0 330.0 537.0 322.0" fill="none" stroke="#000" stroke-width="1" stroke-dasharray="6 3" stroke-linejoin="round" shape-rendering="crispEdges"/>
<path d="M462.0 297.6 476.6 300.5 484.0 315.0 490.0 332.0 496.0 350.0 501.0 368.0 505.0 380.0" fill="none" stroke="#000" stroke-width="1" stroke-dasharray="6 3 2 3" stroke-linejoin="round" shape-rendering="crispEdges"/>
<path d="M549.0 359.0 556.4 364.6 565.0 362.0" fill="none" stroke="#000" stroke-width="1" stroke-dasharray="2 2" stroke-linejoin="round" shape-rendering="crispEdges"/>
<path d="M522.0 345.0 530.0 339.0 536.0 338.0 545.0 350.0 553.0 362.0 559.0 367.0 566.0 362.0 575.0 352.0 585.0 344.0 596.0 342.0 606.0 347.0 616.0 355.0 626.0 364.0 636.0 376.0 643.0 384.0" fill="none" stroke="#000" stroke-width="1" stroke-dasharray="2 2" stroke-linejoin="round" shape-rendering="crispEdges"/>
<path d="M525.0 335.0 533.0 329.0 540.0 334.0 548.0 344.0 556.0 350.0 563.0 348.0 572.0 338.0 582.0 330.0 593.0 327.0 605.0 329.0 616.0 336.0 628.0 347.0 636.0 356.0 643.0 362.0" fill="none" stroke="#000" stroke-width="1" stroke-dasharray="6 3 2 3" stroke-linejoin="round" shape-rendering="crispEdges"/>
<path d="M565.0 322.0 575.0 318.0 588.0 318.0 600.0 322.0 612.0 330.0 625.8 340.0 635.9 350.0 644.0 356.0" fill="none" stroke="#000" stroke-width="1" stroke-dasharray="2 2" stroke-linejoin="round" shape-rendering="crispEdges"/>
</svg></body></html>
